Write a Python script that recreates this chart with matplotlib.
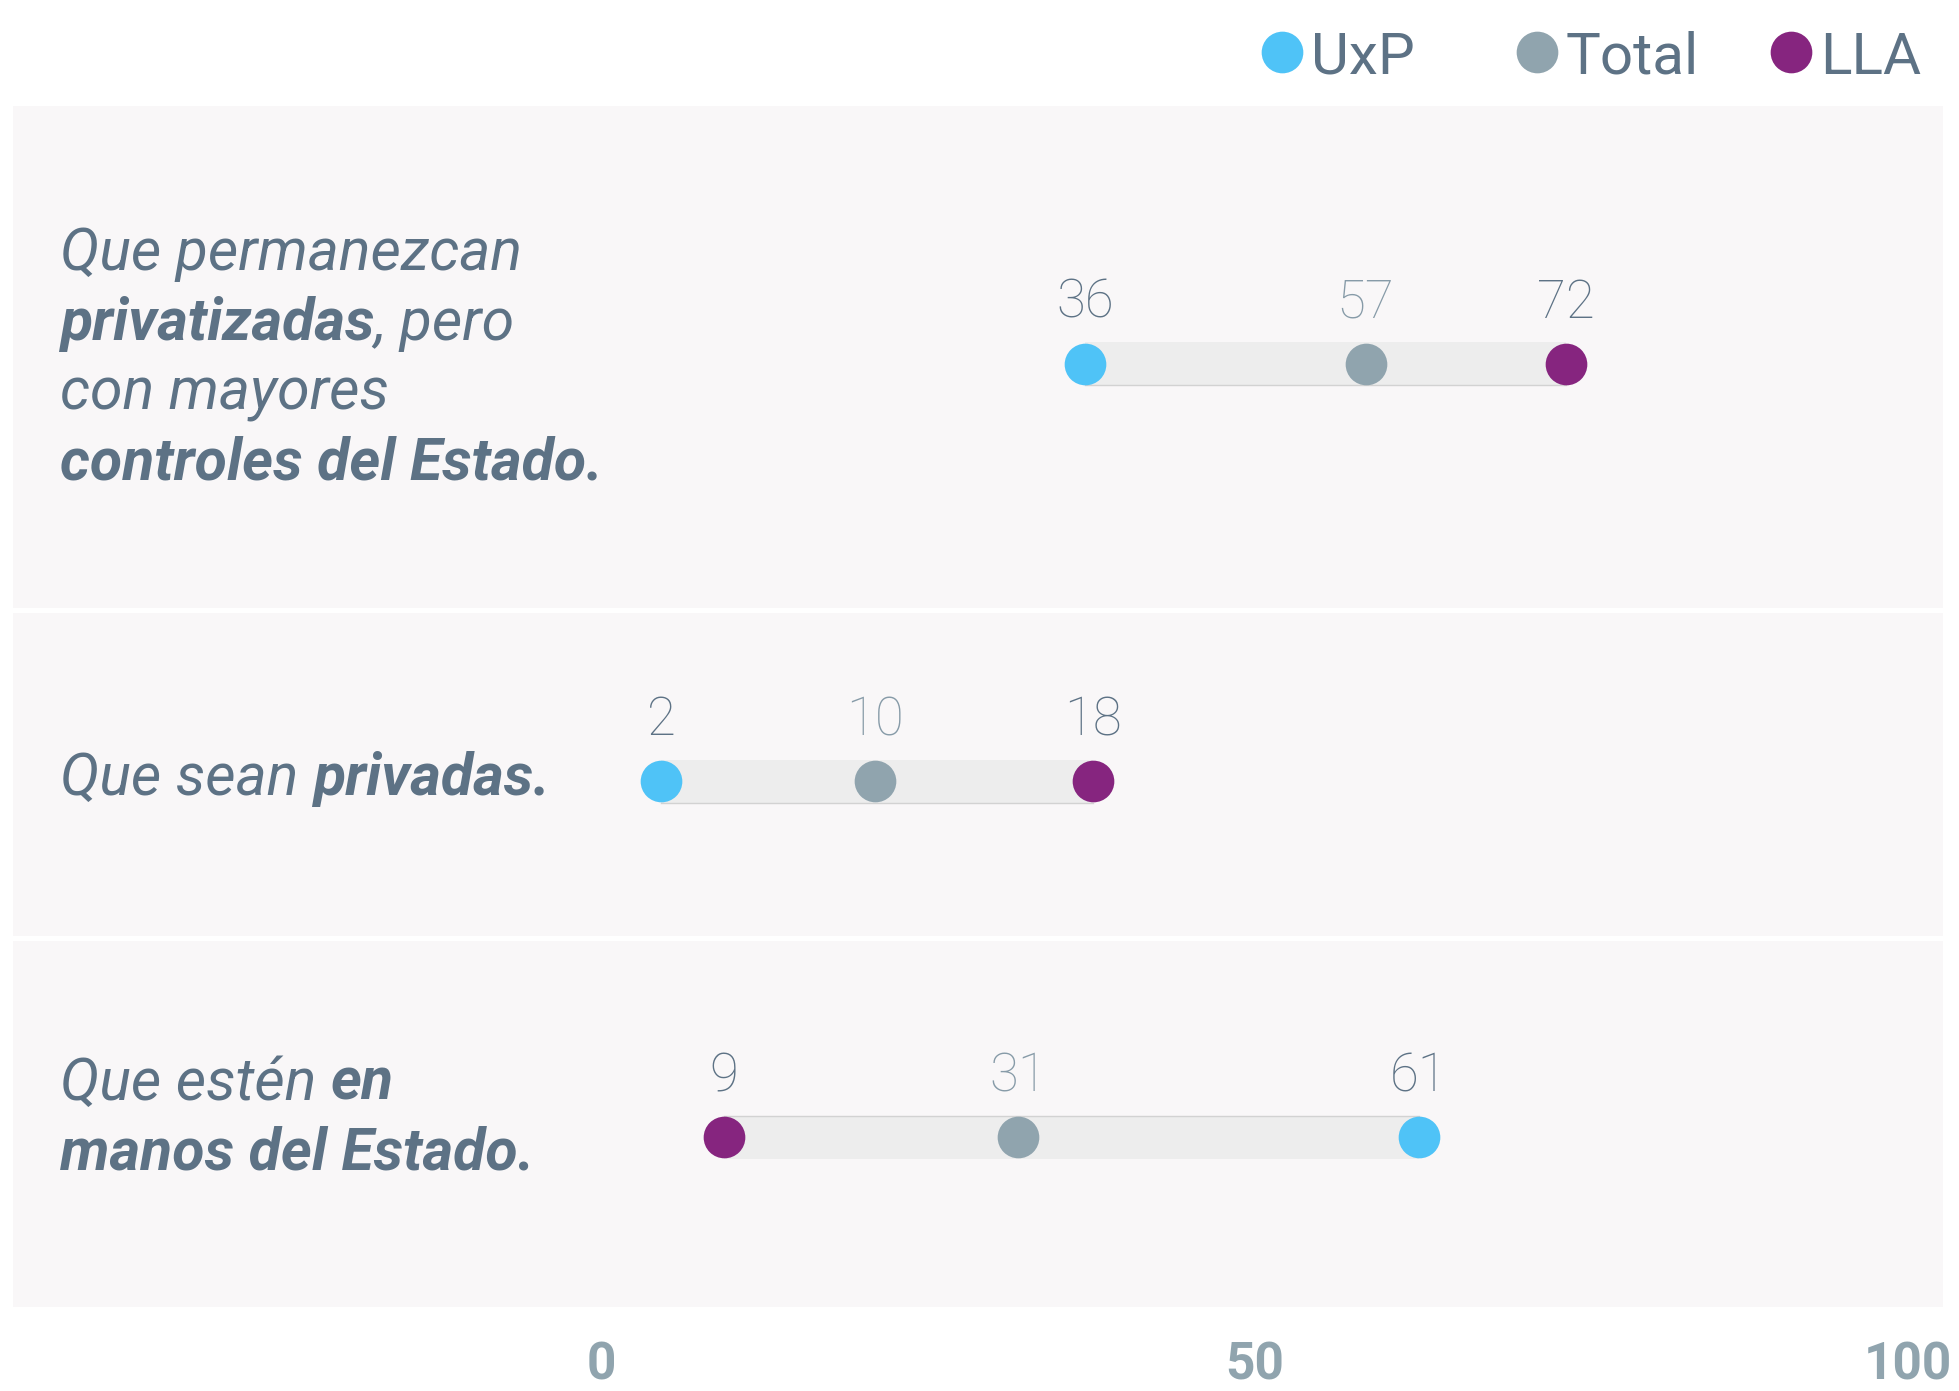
import matplotlib
matplotlib.use("Agg")
import matplotlib.pyplot as plt
import matplotlib.transforms as mtransforms
from matplotlib.patches import Rectangle

# ---------------- data ----------------
categories = [
    "Que permanezcan\n**privatizadas**, pero\ncon mayores\n**controles del Estado.**",
    "Que sean **privadas.**",
    "Que estén **en**\n**manos del Estado.**",
]
series_names = ["UxP", "Total", "LLA"]
# printed values
uxp_labels = [36, 2, 61]
total_labels = [57, 10, 31]
lla_labels = [72, 18, 9]
# plotted positions (row 2 is drawn at about twice its printed value)
uxp_pos = [36, 4.3, 61]
total_pos = [57, 20.3, 31]
lla_pos = [72, 36.6, 9]
tick_values = [0, 50, 100]
tick_labels = ["0", "50", "100"]

# ---------------- style ----------------
W, H, DPI = 1959, 1391, 100
C_UXP, C_TOTAL, C_LLA = "#4FC3F7", "#90A4AE", "#86257F"
C_TEXT = "#5D7285"
C_TOTAL_TXT = "#879BA8"
C_BAR, C_BARLINE = "#EDEDED", "#D2D2D2"
C_PANEL = "#F9F7F8"
FONT = ["Roboto", "DejaVu Sans"]
plt.rcParams["font.family"] = FONT

fig = plt.figure(figsize=(W / DPI, H / DPI), dpi=DPI)
ax = fig.add_axes([0, 0, 1, 1])
x0_px, unit_px = 604, 13.36
ax.set_xlim(-x0_px / unit_px, (W - x0_px) / unit_px)
ax.set_ylim(H, 0)
ax.axis("off")

pix = mtransforms.Affine2D().scale(1, -1).translate(0, H)

# panels
panels = [(105.7, 608), (613.3, 935.7), (941, 1306.7)]
for top, bot in panels:
    ax.add_patch(Rectangle((13, top), 1930, bot - top, transform=pix,
                           facecolor=C_PANEL, edgecolor="none", zorder=0))

row_y = [363.6, 781, 1137]
bar_h = 43
dot_ms = 30
line_side = ["bottom", "bottom", "top"]

for i, y in enumerate(row_y):
    vals = [uxp_pos[i], total_pos[i], lla_pos[i]]
    labs = [uxp_labels[i], total_labels[i], lla_labels[i]]
    lo, hi = min(vals), max(vals)
    ax.add_patch(Rectangle((lo, y - bar_h / 2), hi - lo, bar_h,
                           facecolor=C_BAR, edgecolor="none", zorder=1))
    ly = y + bar_h / 2 if line_side[i] == "bottom" else y - bar_h / 2
    ax.plot([lo, hi], [ly, ly], color=C_BARLINE, lw=1.0, zorder=1.5)
    for v, lab, col, tcol in zip(vals, labs, [C_UXP, C_TOTAL, C_LLA],
                                 [C_TEXT, C_TOTAL_TXT, C_TEXT]):
        ax.plot([v], [y], "o", ms=dot_ms, color=col, mec="none", zorder=3)
        ax.text(v, y - 46, str(lab), ha="center", va="baseline", fontsize=38,
                fontweight="light", color=tcol, zorder=4)

# row labels with mixed italic / bold italic
fig.canvas.draw()
renderer = fig.canvas.get_renderer()
label_baselines = [[270, 340, 410, 480], [795], [1099.5, 1169.5]]
LABEL_FS = 42.5
space_px = 0.2476 * LABEL_FS * DPI / 72


def draw_line(x, y, line):
    parts = line.split("**")
    for k, part in enumerate(parts):
        if part == "":
            continue
        bold = (k % 2 == 1)
        lead = part[0] == " "
        trail = part[-1] == " "
        txt = part.strip()
        if lead:
            x += space_px
        t = ax.text(x, y, txt, transform=pix, ha="left", va="baseline",
                    fontsize=LABEL_FS, style="italic",
                    fontweight="bold" if bold else "normal", color=C_TEXT, zorder=4)
        ext = t.get_window_extent(renderer)
        x = ext.x1
        if trail:
            x += space_px


for cat, bases in zip(categories, label_baselines):
    for line, b in zip(cat.split("\n"), bases):
        draw_line(60, b, line)

# legend
leg_x = [1282, 1537, 1791]
for name, cx, col in zip(series_names, leg_x, [C_UXP, C_TOTAL, C_LLA]):
    ax.plot([cx], [52], "o", ms=dot_ms, color=col, mec="none", transform=pix, clip_on=False)
    ax.text(cx + 29, 52, name, transform=pix, ha="left", va="center_baseline",
            fontsize=42, color=C_TEXT)

# x tick labels
off = mtransforms.ScaledTranslation(12 / DPI, 0, fig.dpi_scale_trans)
for v, lab in zip(tick_values, tick_labels):
    ax.text(v, 1366, lab, ha="right", va="center", fontsize=37, fontweight="bold",
            color=C_TOTAL, transform=ax.transData + off)

fig.savefig("out.png", dpi=DPI)
